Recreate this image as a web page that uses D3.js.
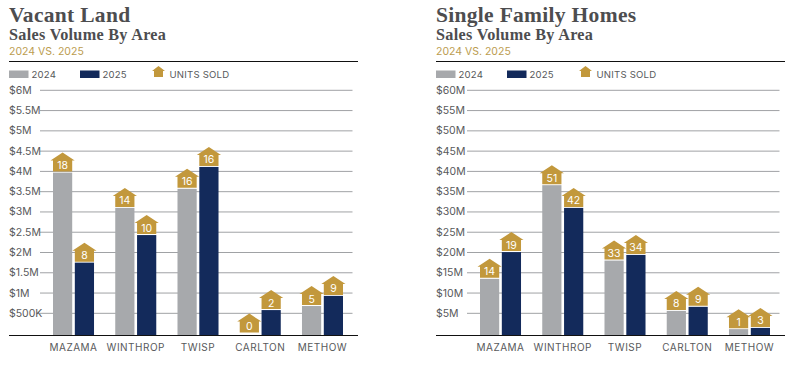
<!DOCTYPE html>
<html lang="en">
<head>
<meta charset="UTF-8"/>
<title>Sales Volume By Area</title>
<script src="https://d3js.org/d3.v7.min.js"></script>
<style>
	html, body { margin: 0; padding: 0; background: #fff; }
	svg { display: block; }
	text { font-family: Inter, "Open Sans", sans-serif; }
	.title { font-family: "Liberation Serif", serif; font-weight: bold; font-size: 21.5px; fill: #4d4d4f; letter-spacing: .3px; }
	.subtitle { font-family: "Liberation Serif", serif; font-weight: bold; font-size: 16.2px; fill: #4d4d4f; letter-spacing: .3px; }
	.years { font-size: 10.5px; fill: #bb9c4f; }
	.legend { font-size: 9.6px; fill: #58595b; letter-spacing: .2px; }
	.tick-y { font-size: 10.5px; fill: #58595b; }
	.tick-x { font-size: 10px; fill: #58595b; letter-spacing: .5px; }
	.units { font-size: 10.5px; fill: #fff; text-anchor: middle; }
</style>
</head>
<body>
<div id="chart"></div>
<script>
	var areas = ["MAZAMA", "WINTHROP", "TWISP", "CARLTON", "METHOW"];
	var years = ["2024", "2025"];

	// values, in millions
	var landSales2024 = [3.97, 3.1, 3.57, 0, 0.68];
	var landSales2025 = [1.75, 2.43, 4.11, 0.58, 0.93];
	var landUnits2024 = [18, 14, 16, 0, 5];
	var landUnits2025 = [8, 10, 16, 2, 9];
	var landTicks = [0.5, 1, 1.5, 2, 2.5, 3, 3.5, 4, 4.5, 5, 5.5, 6];

	var homeSales2024 = [13.5, 36.6, 18, 5.6, 1.1];
	var homeSales2025 = [20.1, 31, 19.4, 6.6, 1.4];
	var homeUnits2024 = [14, 51, 33, 8, 1];
	var homeUnits2025 = [19, 42, 34, 9, 3];
	var homeTicks = [5, 10, 15, 20, 25, 30, 35, 40, 45, 50, 55, 60];

	var colors = { "2024": "#a7a9ac", "2025": "#132a5b" };
	var gold = "#c2983c";
	var baseline = 335.5;

	var svg = d3.select("#chart").append("svg")
		.attr("width", 807)
		.attr("height", 366);

	// house sitting on top of a bar, origin at the middle of the bar top
	function housePath(w) {
		var h = w / 2;
		return "M" + (-h) + ",-1 V-12 H" + (-h - 2.5) + " L0,-20 L" + (h + 2.5) + ",-12 H" + h + " V-1 Z";
	}

	function panel(opt) {
		var g = svg.append("g").attr("transform", "translate(" + opt.left + ",0)");

		g.append("text").attr("class", "title").attr("x", 0).attr("y", 22).text(opt.title);
		g.append("text").attr("class", "subtitle").attr("x", 0).attr("y", 40).text("Sales Volume By Area");
		g.append("text").attr("class", "years").attr("x", 0).attr("y", 55).text("2024 VS. 2025");
		g.append("line").attr("x1", 0).attr("x2", 349).attr("y1", 61.5).attr("y2", 61.5)
			.attr("stroke", "#111").attr("stroke-width", 1.2);

		// legend
		g.selectAll(".swatch").data(years).enter().append("rect")
			.attr("class", "swatch")
			.attr("x", function(d, i) { return i * 71; })
			.attr("y", 70.5)
			.attr("width", 19.5)
			.attr("height", 7.5)
			.attr("fill", function(d) { return colors[d]; });
		g.selectAll(".legend-year").data(years).enter().append("text")
			.attr("class", "legend")
			.attr("x", function(d, i) { return 22.5 + i * 71; })
			.attr("y", 77.5)
			.text(function(d) { return d; });
		g.append("path")
			.attr("d", "M-4.5,10 V4 H-6.5 L0,-1 L6.5,4 H4.5 V10 Z")
			.attr("transform", "translate(149.5,67)")
			.attr("fill", gold);
		g.append("text").attr("class", "legend").attr("x", 160.5).attr("y", 77.5).text("UNITS SOLD");

		var yScale = d3.scaleLinear().domain([0, opt.max]).range([333.6, 90.3]);
		var xScale = d3.scaleBand().domain(areas).range([opt.barLeft, opt.barLeft + 290]).paddingInner(0.341);
		var subScale = d3.scaleBand().domain(years).range([0, xScale.bandwidth()]).paddingInner(0.12);

		// gridlines and labels
		g.selectAll(".grid").data(opt.ticks).enter().append("line")
			.attr("x1", opt.gridLeft)
			.attr("x2", 343.5)
			.attr("y1", function(d) { return yScale(d); })
			.attr("y2", function(d) { return yScale(d); })
			.attr("stroke", "#a0a2a5")
			.attr("stroke-width", 1);
		g.selectAll(".tick-y").data(opt.ticks).enter().append("text")
			.attr("class", "tick-y")
			.attr("x", 0)
			.attr("y", function(d) { return yScale(d) + 3.5; })
			.text(opt.format);

		// flatten the series into one row per bar
		var rows = [];
		areas.forEach(function(a, i) {
			rows.push({ area: a, year: "2024", value: opt.sales[0][i], units: opt.units[0][i] });
			rows.push({ area: a, year: "2025", value: opt.sales[1][i], units: opt.units[1][i] });
		});

		function mid(d) { return xScale(d.area) + subScale(d.year) - opt.left + subScale.bandwidth() / 2; }

		// zero bars draw nothing, the others run down to the baseline rule
		g.selectAll(".bar").data(rows.filter(function(d) { return d.value > 0; })).enter().append("rect")
			.attr("class", "bar")
			.attr("x", function(d) { return xScale(d.area) + subScale(d.year) - opt.left; })
			.attr("y", function(d) { return yScale(d.value); })
			.attr("width", subScale.bandwidth())
			.attr("height", function(d) { return baseline - yScale(d.value); })
			.attr("fill", function(d) { return colors[d.year]; });

		g.selectAll(".house").data(rows).enter().append("path")
			.attr("class", "house")
			.attr("d", housePath(subScale.bandwidth()))
			.attr("transform", function(d) { return "translate(" + mid(d) + "," + yScale(d.value) + ")"; })
			.attr("fill", gold);

		g.selectAll(".units").data(rows).enter().append("text")
			.attr("class", "units")
			.attr("x", mid)
			.attr("y", function(d) { return yScale(d.value) - 3.5; })
			.text(function(d) { return d.units; });

		// baseline
		g.append("line").attr("x1", 0).attr("x2", 349).attr("y1", baseline).attr("y2", baseline)
			.attr("stroke", "#111").attr("stroke-width", 1.2);

		g.selectAll(".tick-x").data(areas).enter().append("text")
			.attr("class", "tick-x")
			.attr("x", function(d) { return xScale(d) - opt.left + xScale.bandwidth() / 2; })
			.attr("y", 351)
			.attr("text-anchor", "middle")
			.text(function(d) { return d; });
	}

	panel({
		left: 9, barLeft: 53, gridLeft: 31, max: 6,
		title: "Vacant Land",
		sales: [landSales2024, landSales2025],
		units: [landUnits2024, landUnits2025],
		ticks: landTicks,
		format: function(d) { return d < 1 ? "$" + (d * 1000) + "K" : "$" + d + "M"; }
	});

	panel({
		left: 436, barLeft: 480, gridLeft: 31, max: 60,
		title: "Single Family Homes",
		sales: [homeSales2024, homeSales2025],
		units: [homeUnits2024, homeUnits2025],
		ticks: homeTicks,
		format: function(d) { return "$" + d + "M"; }
	});
</script>
</body>
</html>
